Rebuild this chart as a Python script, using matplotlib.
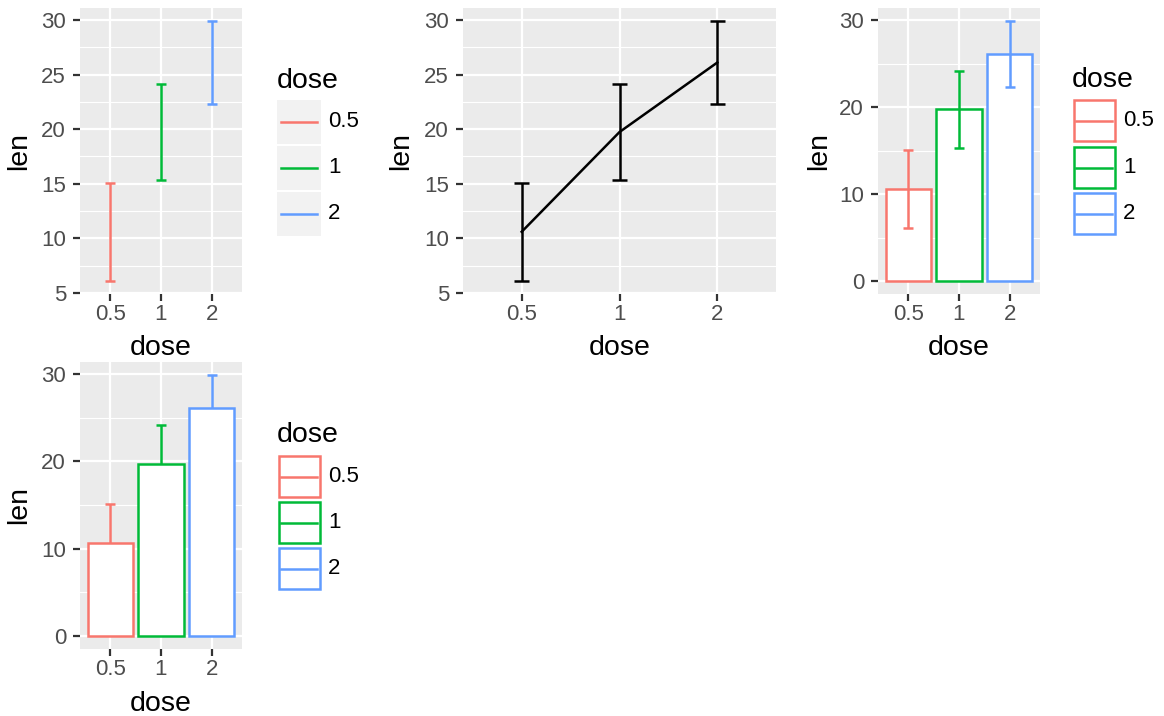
import matplotlib
matplotlib.use("Agg")
import matplotlib.pyplot as plt
from matplotlib.patches import Rectangle

plt.rcParams['font.family'] = ['Liberation Sans', 'DejaVu Sans']

# ToothGrowth summary by dose
doses = ["0.5", "1", "2"]
len_mean = [10.605, 19.735, 26.10]
len_sd = [4.50, 4.415, 3.77]
colors = ["#F8766D", "#00BA38", "#619CFF"]

W, H = 1164, 716
fig = plt.figure(figsize=(W / 100, H / 100), dpi=100)

PANEL = "#EBEBEB"
TICK_FS = 16
TITLE_FS = 20.5
LEG_FS = 16


def add_ax(x0, y0, x1, y1):
    return fig.add_axes([x0 / W, 1 - y1 / H, (x1 - x0) / W, (y1 - y0) / H])


def style(ax, yticks, yminor, ylim, ylab_x, xlab_y):
    ax.set_facecolor(PANEL)
    for s in ax.spines.values():
        s.set_visible(False)
    ax.set_xlim(0.4, 3.6)
    ax.set_ylim(*ylim)
    ax.set_xticks([1, 2, 3])
    ax.set_xticklabels(doses)
    ax.set_yticks(yticks)
    ax.set_yticks(yminor, minor=True)
    ax.grid(True, which="major", color="white", lw=1.6)
    ax.grid(True, which="minor", axis="y", color="white", lw=0.8)
    ax.set_axisbelow(True)
    ax.tick_params(which="major", length=5, width=1.6, color="#333333",
                   labelsize=TICK_FS, labelcolor="#4D4D4D")
    ax.tick_params(axis="y", pad=5)
    ax.tick_params(axis="x", pad=2.5)
    ax.tick_params(which="minor", length=0)
    ax.set_xlabel("dose", fontsize=TITLE_FS, va="center")
    ax.set_ylabel("len", fontsize=TITLE_FS, va="center")
    ax.yaxis.set_label_coords(ylab_x, 0.5)
    ax.xaxis.set_label_coords(0.5, xlab_y)


xs = [1, 2, 3]
lo = [m - s for m, s in zip(len_mean, len_sd)]
hi = [m + s for m, s in zip(len_mean, len_sd)]

# panel 1: coloured error bars
ax1 = add_ax(80, 8, 242, 294)
style(ax1, [5, 10, 15, 20, 25, 30], [7.5, 12.5, 17.5, 22.5, 27.5],
      (4.91, 31.09), -0.377, -0.19)
for x, a, b, c in zip(xs, lo, hi, colors):
    ax1.vlines(x, a, b, color=c, lw=1.8)
    ax1.hlines([a, b], x - 0.1, x + 0.1, color=c, lw=1.8)

# panel 2: line + black error bars
ax2 = add_ax(463, 8, 776, 294)
style(ax2, [5, 10, 15, 20, 25, 30], [7.5, 12.5, 17.5, 22.5, 27.5],
      (4.91, 31.09), -0.198, -0.19)
ax2.plot(xs, len_mean, color="black", lw=1.8)
ax2.vlines(xs, lo, hi, color="black", lw=1.8)
for x, a, b in zip(xs, lo, hi):
    ax2.hlines([a, b], x - 0.075, x + 0.075, color="black", lw=1.8)

# panel 3: bars + full error bars
ax3 = add_ax(878, 8, 1040, 294)
style(ax3, [0, 10, 20, 30], [5, 15, 25], (-1.495, 31.395), -0.364, -0.19)
ax3.bar(xs, len_mean, width=0.9, color="white", edgecolor=colors, lw=1.8)
for x, a, b, c in zip(xs, lo, hi, colors):
    ax3.vlines(x, a, b, color=c, lw=1.8)
    ax3.hlines([a, b], x - 0.1, x + 0.1, color=c, lw=1.8)

# panel 4: upper error bars behind bars
ax4 = add_ax(80, 362, 242, 649)
style(ax4, [0, 10, 20, 30], [5, 15, 25], (-1.495, 31.395), -0.377, -0.19)
for x, m, b, c in zip(xs, len_mean, hi, colors):
    ax4.vlines(x, m, b, color=c, lw=1.8, zorder=1)
    ax4.hlines(b, x - 0.1, x + 0.1, color=c, lw=1.8, zorder=1)
ax4.bar(xs, len_mean, width=0.9, color="white", edgecolor=colors, lw=1.8,
        zorder=2)

# legends drawn in pixel space
lg = fig.add_axes([0, 0, 1, 1], facecolor="none")
lg.set_xlim(0, W)
lg.set_ylim(H, 0)
lg.axis("off")


def legend(x0, title_base, key_tops, boxed):
    lg.text(x0, title_base, "dose", fontsize=TITLE_FS, ha="left", va="baseline")
    for top, lab, c in zip(key_tops, doses, colors):
        cy = top + 21.5
        if boxed:
            lg.add_patch(Rectangle((x0 + 2, top + 1), 41, 41, facecolor="white",
                                   edgecolor=c, lw=1.8))
        else:
            lg.add_patch(Rectangle((x0, top), 44, 44, facecolor="#F2F2F2",
                                   edgecolor="none"))
        lg.plot([x0 + 4, x0 + 40], [cy, cy], color=c, lw=1.8)
        lg.text(x0 + 51, cy, lab, fontsize=LEG_FS, ha="left", va="center")


legend(277, 88, [100, 146, 192], False)
legend(1072, 87, [99, 146, 192], True)
legend(277, 442, [455, 501, 547], True)

fig.savefig("out.png", dpi=100)
